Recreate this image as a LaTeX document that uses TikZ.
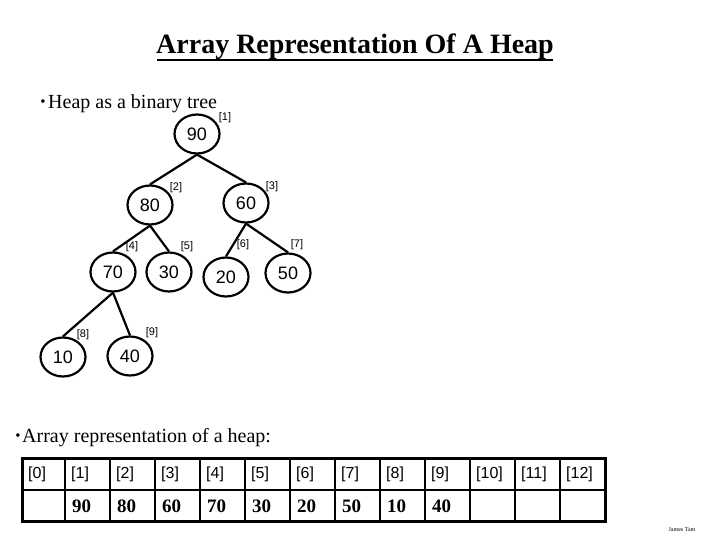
\documentclass[tikz,border=0pt]{standalone}
\usepackage{fontspec}
\setmainfont{Liberation Serif}
\newfontfamily\arialf{Liberation Sans}
\usetikzlibrary{shapes.geometric}
\tikzset{
  heapnode/.style={ellipse, draw, line width=2.2pt, minimum width=45pt, minimum height=39pt, inner sep=0pt, font=\arialf\fontsize{18}{18}\selectfont},
  heapedge/.style={line width=2.2pt},
  idx/.style={inner sep=0pt, font=\arialf\fontsize{11}{11}\selectfont},
  bodytext/.style={inner sep=0pt, anchor=base west, font=\fontsize{20}{24}\selectfont},
  bul/.style={inner sep=0pt, anchor=base, font=\fontsize{15}{15}\selectfont},
  cellhead/.style={inner sep=0pt, anchor=base west, font=\arialf\fontsize{16}{16}\selectfont},
  cellval/.style={inner sep=0pt, anchor=base west, font=\bfseries\fontsize{19}{19}\selectfont},
}
\begin{document}
\begin{tikzpicture}[x=1pt, y=-1pt]
\useasboundingbox (0,0) rectangle (720,540);
% title
\node[inner sep=0pt, anchor=base, font=\bfseries\fontsize{28}{32}\selectfont] (title) at (355,54) {Array Representation Of A Heap};
\draw[line width=2.2pt] (157,60) -- (553,60);
% first bullet
\node[bul] (b1) at (43,107) {\textbullet};
\node[bodytext] (t1) at (48,109) {Heap as a binary tree};
% tree nodes
\node[heapnode] (n1) at (197,134) {90};
\node[heapnode] (n2) at (150,205) {80};
\node[heapnode] (n3) at (246,203) {60};
\node[heapnode] (n4) at (113,272) {70};
\node[heapnode] (n5) at (169,272) {30};
\node[heapnode] (n6) at (226,277) {20};
\node[heapnode] (n7) at (288,273) {50};
\node[heapnode] (n8) at (63,357) {10};
\node[heapnode] (n9) at (130,356) {40};
% edges
\draw[heapedge] (n1.south) -- (n2.north);
\draw[heapedge] (n1.south) -- (n3.north);
\draw[heapedge] (n2.south) -- (n4.north);
\draw[heapedge] (n2.south) -- (n5.north);
\draw[heapedge] (n3.south) -- (n6.north);
\draw[heapedge] (n3.south) -- (n7.north);
\draw[heapedge] (n4.south) -- (n8.north);
\draw[heapedge] (n4.south) -- (n9.north);
% index labels
\node[idx] (i1) at (225,118) {[1]};
\node[idx] (i2) at (176,188) {[2]};
\node[idx] (i3) at (272,187) {[3]};
\node[idx] (i4) at (132,247) {[4]};
\node[idx] (i5) at (187,247) {[5]};
\node[idx] (i6) at (243,245) {[6]};
\node[idx] (i7) at (297,245) {[7]};
\node[idx] (i8) at (83,335) {[8]};
\node[idx] (i9) at (152,333) {[9]};
% second bullet
\node[bul] (b2) at (18,440) {\textbullet};
\node[bodytext] (t2) at (22,442) {Array representation of a heap:};
% table
\foreach \xx in {65,110,...,560} {
  \draw[line width=2pt] (\xx,458) -- (\xx,521);
}
\draw[line width=2pt] (22,490) -- (605,490);
\draw[line width=3pt] (22,458) rectangle (605,521);
\node[cellhead] (h0) at (28,478) {[0]};
\foreach \k in {1,...,12} {
  \node[cellhead] (h\k) at ({65+(\k-1)*45+6},478) {[\k]};
}
\foreach \k/\v in {1/90,2/80,3/60,4/70,5/30,6/20,7/50,8/10,9/40} {
  \node[cellval] (v\k) at ({65+(\k-1)*45+7},512) {\v};
}
\node[inner sep=0pt, font=\fontsize{6}{6}\selectfont] (auth) at (682,530) {James Tam};
\end{tikzpicture}
\end{document}
